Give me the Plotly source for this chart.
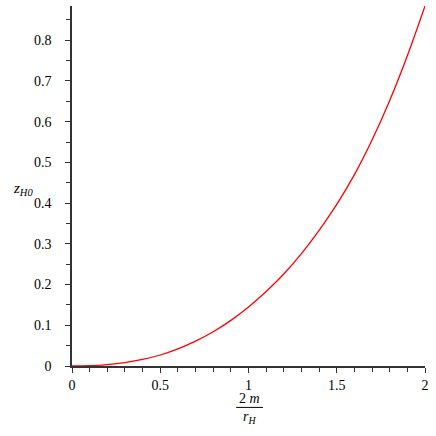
import plotly.graph_objects as go

# values
ratio_2m_rH = [0.0, 0.1, 0.2, 0.3, 0.4, 0.5, 0.6, 0.7, 0.8, 0.9, 1.0,
               1.1, 1.2, 1.3, 1.4, 1.5, 1.6, 1.7, 1.8, 1.9, 2.0]
z_H0 = [0.0, 0.0008, 0.0035, 0.0085, 0.016, 0.027, 0.042, 0.061, 0.084, 0.112, 0.145,
        0.183, 0.226, 0.276, 0.333, 0.397, 0.470, 0.555, 0.652, 0.762, 0.884]

x_ticks = [0, 0.5, 1, 1.5, 2]
x_tick_text = ["0", "0.5", "1", "1.5", "2"]
y_ticks = [0, 0.1, 0.2, 0.3, 0.4, 0.5, 0.6, 0.7, 0.8]
y_tick_text = ["0", "0.1", "0.2", "0.3", "0.4", "0.5", "0.6", "0.7", "0.8"]

font = dict(family="Liberation Serif, Times New Roman, serif", size=14, color="black")

fig = go.Figure(go.Scatter(
    x=ratio_2m_rH, y=z_H0, mode="lines",
    line=dict(color="#ff0000", width=1.3, shape="spline", smoothing=1),
    hoverinfo="skip",
))

axis_common = dict(
    showgrid=False, zeroline=False, showline=True,
    linecolor="#333333", linewidth=1.5,
    ticks="outside", ticklen=5, tickwidth=1.2, tickcolor="#333333",
    tickfont=font,
)

fig.update_xaxes(
    range=[0, 2], tickvals=x_ticks, ticktext=x_tick_text,
    minor=dict(dtick=0.1, ticks="outside", ticklen=4, tickwidth=1.2, tickcolor="#333333"),
    **axis_common,
)
fig.update_yaxes(
    range=[0, 0.884], tickvals=y_ticks, ticktext=y_tick_text,
    minor=dict(dtick=0.05, ticks="outside", ticklen=4, tickwidth=1.2, tickcolor="#333333"),
    ticklabelstandoff=11,
    **axis_common,
)

# axis titles: y label and the fraction 2m / r_H
fig.add_annotation(
    text="<i>z<sub>H0</sub></i>", x=-0.139, xref="paper", y=0.492, yref="paper",
    xanchor="center", yanchor="middle", showarrow=False,
    font=dict(family=font["family"], size=15, color="black"),
)
fig.add_annotation(
    text="2 <i>m</i>", x=0.503, xref="paper", y=-0.089, yref="paper",
    xanchor="center", yanchor="middle", showarrow=False, font=font,
)
fig.add_shape(
    type="line", xref="paper", yref="paper",
    x0=0.465, x1=0.541, y0=-0.115, y1=-0.115,
    line=dict(color="black", width=1),
)
fig.add_annotation(
    text="<i>r<sub>H</sub></i>", x=0.503, xref="paper", y=-0.143, yref="paper",
    xanchor="center", yanchor="middle", showarrow=False, font=font,
)

fig.update_layout(
    width=436, height=436,
    margin=dict(l=72, r=11, t=6, b=70),
    paper_bgcolor="white", plot_bgcolor="white",
    showlegend=False,
)

fig.write_html(
    "out.html",
    config={"displayModeBar": False},
    post_script="document.body.style.margin='0';",
)
